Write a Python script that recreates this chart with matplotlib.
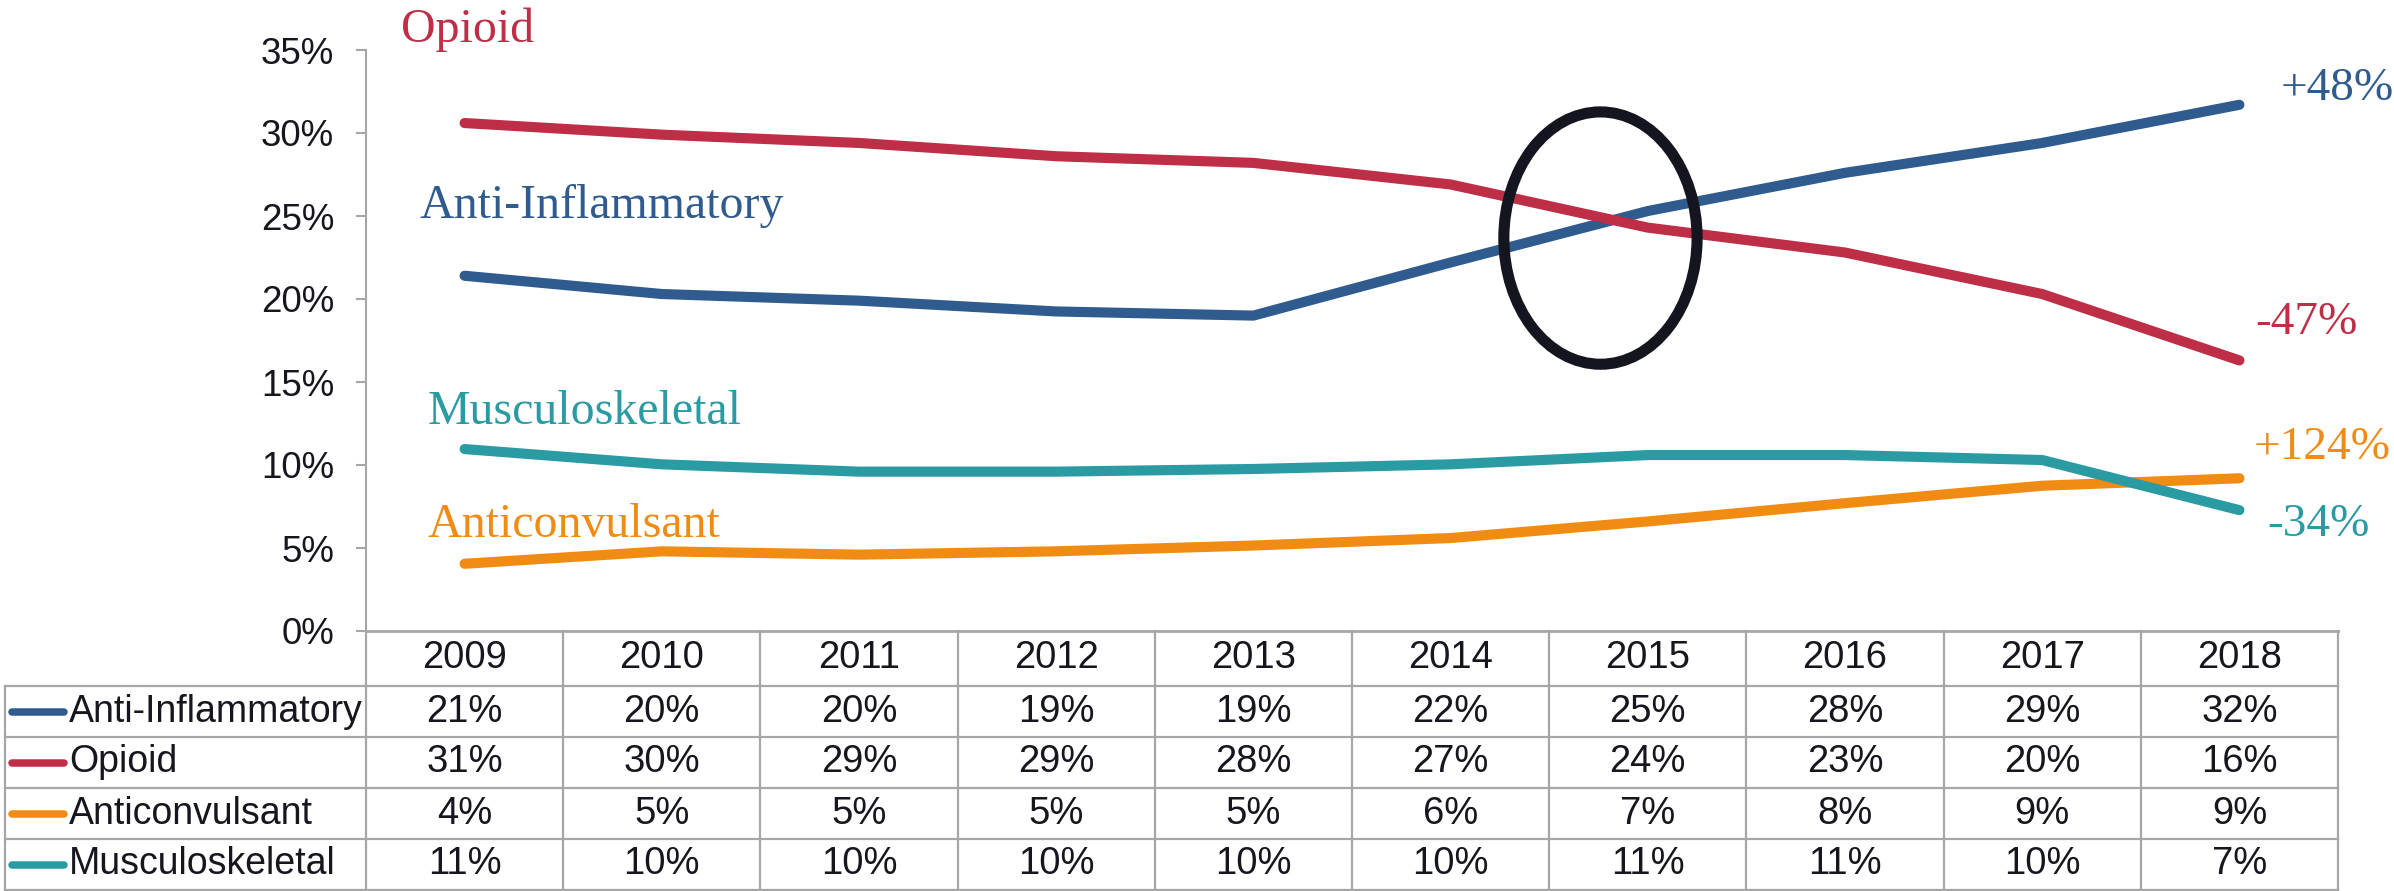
import matplotlib
matplotlib.use('Agg')
import matplotlib.pyplot as plt
from matplotlib.patches import Ellipse
from matplotlib.lines import Line2D

# ---------------- data ----------------
years = [2009, 2010, 2011, 2012, 2013, 2014, 2015, 2016, 2017, 2018]
anti_inflammatory = [21.4, 20.3, 19.9, 19.25, 19.0, 22.2, 25.3, 27.6, 29.4, 31.7]
opioid = [30.6, 29.9, 29.4, 28.6, 28.2, 26.9, 24.3, 22.8, 20.3, 16.3]
anticonvulsant = [4.05, 4.8, 4.6, 4.8, 5.15, 5.6, 6.6, 7.7, 8.75, 9.2]
musculoskeletal = [10.96, 10.04, 9.6, 9.6, 9.76, 10.04, 10.6, 10.6, 10.3, 7.28]
series_names = ["Anti-Inflammatory", "Opioid", "Anticonvulsant", "Musculoskeletal"]
change_labels = ["+48%", "-47%", "+124%", "-34%"]
y_ticks = [0, 5, 10, 15, 20, 25, 30, 35]

series = [anti_inflammatory, opioid, anticonvulsant, musculoskeletal]
colors = ["#2F5B8F", "#BE2E46", "#F08B14", "#2A9AA3"]

# ---------------- figure ----------------
W, H = 2394, 891
fig = plt.figure(figsize=(W / 100, H / 100), dpi=100)
SANS = ["Liberation Sans", "DejaVu Sans"]
SERIF = ["Liberation Serif", "DejaVu Serif"]
TXT = "#16161F"
GRID = "#A6A6A6"

ax_l_px, ax_r_px = 366, 2338
ax_top_px, ax_bot_px = 50, 631
ax = fig.add_axes([ax_l_px / W, 1 - ax_bot_px / H, (ax_r_px - ax_l_px) / W,
                   (ax_bot_px - ax_top_px) / H])
x0, x1 = years[0] - 0.5, years[-1] + 0.5
ax.set_xlim(x0, x1)
ax.set_ylim(0, 35)

for vals, c in zip(series, colors):
    ax.plot(years, vals, color=c, lw=7.3, solid_capstyle='round',
            solid_joinstyle='round', zorder=3)

ax.add_patch(Ellipse((2014.76, 23.67), 0.98, 15.2, fill=False,
                     edgecolor="#15151F", lw=8, zorder=4))

for s in ["top", "right"]:
    ax.spines[s].set_visible(False)
ax.spines["left"].set_color(GRID)
ax.spines["left"].set_linewidth(1.5)
ax.spines["bottom"].set_color(GRID)
ax.spines["bottom"].set_linewidth(2)
ax.set_xticks([])
ax.set_yticks(y_ticks)
ax.set_yticklabels([f"{t}%" for t in y_ticks], family=SANS, fontsize=26.5, color=TXT)
ax.tick_params(axis='y', direction='out', length=7, width=1.5, color=GRID, pad=16)

# series name labels
name_pos = {"Opioid": (2008.68, 35.5), "Anti-Inflammatory": (2008.77, 24.9),
            "Musculoskeletal": (2008.81, 12.46), "Anticonvulsant": (2008.81, 5.64)}
for name, c in zip(series_names, colors):
    x, y = name_pos[name]
    ax.text(x, y, name, color=c, family=SERIF, fontsize=34.5, ha='left',
            va='baseline', clip_on=False)

change_pos = [(2018.21, 32.0), (2018.08, 17.9), (2018.07, 10.34), (2018.14, 5.73)]
for lab, (x, y), c in zip(change_labels, change_pos, colors):
    ax.text(x, y, lab, color=c, family=SERIF, fontsize=34, ha='left',
            va='baseline', clip_on=False)

# ---------------- data table ----------------
row_px = 51
n_rows = len(series)
hdr_px = (H - 1 - n_rows * row_px) - ax_bot_px
tab = fig.add_axes([ax_l_px / W, 0, (ax_r_px - ax_l_px) / W, (H - ax_bot_px) / H])
tab.set_xlim(x0, x1)
top = n_rows + hdr_px / row_px
bottom_off = 1 / row_px
tab.set_ylim(-bottom_off, top)
tab.set_autoscale_on(False)
tab.axis('off')

col_w_px = (ax_r_px - ax_l_px) / len(years)
px2x = 1 / col_w_px
label_left = x0 - (ax_l_px - 5) * px2x

lkw = dict(color=GRID, lw=1.6, clip_on=False, zorder=1)
# horizontal lines
for r in range(n_rows + 1):
    tab.plot([label_left, x1], [r, r], **lkw)
# vertical lines
for i in range(len(years) + 1):
    tab.plot([x0 + i, x0 + i], [0, top], **lkw)
tab.plot([label_left, label_left], [0, n_rows], **lkw)

FS_T = 27.5
# header
for i, yr in enumerate(years):
    tab.text(yr, n_rows + hdr_px / row_px / 2, str(yr), ha='center', va='center',
             family=SANS, fontsize=FS_T, color=TXT)

for k, (name, vals, c) in enumerate(zip(series_names, series, colors)):
    yc = n_rows - k - 0.5
    key_a = x0 - (ax_l_px - 12) * px2x
    key_b = x0 - (ax_l_px - 64) * px2x
    tab.add_line(Line2D([key_a, key_b], [yc, yc], color=c, lw=5.4,
                        solid_capstyle='round', clip_on=False))
    tab.text(x0 - (ax_l_px - 69) * px2x, yc, name, ha='left', va='center',
             family=SANS, fontsize=27, color=TXT, clip_on=False)
    for yr, v in zip(years, vals):
        tab.text(yr, yc, f"{round(v)}%", ha='center', va='center',
                 family=SANS, fontsize=FS_T, color=TXT)

fig.savefig("out.png", dpi=100)
